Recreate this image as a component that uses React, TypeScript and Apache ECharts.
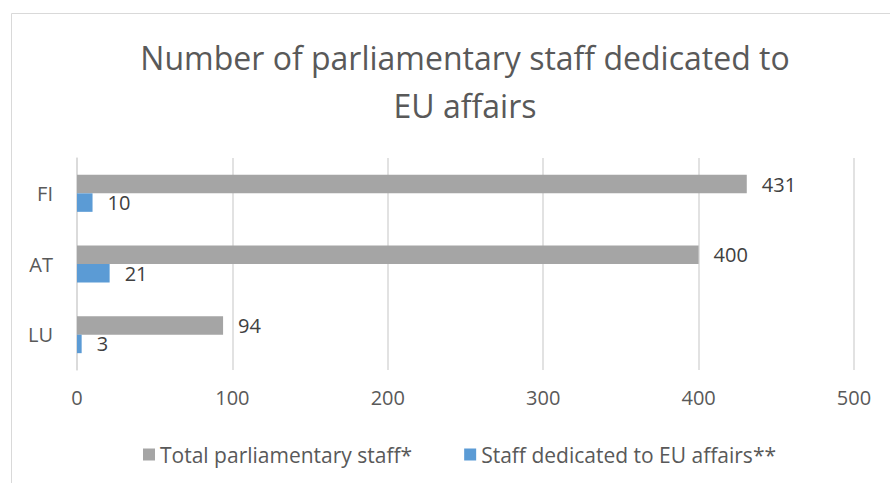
import React, { useEffect, useRef } from "react";
import * as echarts from "echarts";

const categories = ["LU", "AT", "FI"];
const totalStaff = [94, 400, 431];
const euStaff = [3, 21, 10];
const seriesNames = ["Total parliamentary staff*", "Staff dedicated to EU affairs**"];
const titleText = "Number of parliamentary staff dedicated to\nEU affairs";

const FONT = "'Open Sans', Lato, sans-serif";

export default function App() {
  const ref = useRef<HTMLDivElement>(null);
  useEffect(() => {
    if (!ref.current) return;
    const chart = echarts.init(ref.current, undefined, { renderer: "svg" });
    const labelStyle = {
      show: true,
      position: "right" as const,
      distance: 15,
      fontFamily: FONT,
      fontSize: 20,
      color: "#404040",
    };
    chart.setOption({
      animation: false,
      backgroundColor: "#ffffff",
      textStyle: { fontFamily: FONT },
      graphic: [
        {
          type: "rect",
          shape: { x: 11.5, y: 13.5, width: 920, height: 500 },
          style: { fill: "none", stroke: "#d9d9d9", lineWidth: 1 },
          silent: true,
        },
      ],
      title: {
        text: titleText,
        left: 460,
        top: 28,
        textAlign: "center",
        textStyle: {
          fontFamily: FONT,
          fontSize: 32,
          fontWeight: "normal",
          color: "#595959",
          lineHeight: 48,
        },
      },
      legend: {
        left: 138,
        top: 439,
        itemWidth: 12,
        itemHeight: 12,
        itemGap: 52,
        icon: "rect",
        textStyle: { fontFamily: FONT, fontSize: 21, color: "#595959" },
        data: seriesNames,
      },
      grid: { left: 77, right: 36, top: 158, bottom: 113, containLabel: false },
      xAxis: {
        type: "value",
        min: 0,
        max: 500,
        interval: 100,
        axisLine: { show: false },
        axisTick: { show: false },
        splitLine: { lineStyle: { color: "#d9d9d9", width: 1.5 } },
        axisLabel: { fontFamily: FONT, fontSize: 20, color: "#595959", margin: 17 },
      },
      yAxis: {
        type: "category",
        data: categories,
        axisLine: { show: true, lineStyle: { color: "#d9d9d9", width: 1.5 } },
        axisTick: { show: false },
        axisLabel: { fontFamily: FONT, fontSize: 20, color: "#595959", margin: 24 },
      },
      series: [
        {
          name: seriesNames[0],
          type: "bar",
          data: totalStaff,
          barWidth: 18.5,
          barGap: "0%",
          itemStyle: { color: "#a5a5a5" },
          label: labelStyle,
        },
        {
          name: seriesNames[1],
          type: "bar",
          data: euStaff,
          barWidth: 18.5,
          barGap: "0%",
          itemStyle: { color: "#5b9bd5" },
          label: labelStyle,
        },
      ],
    });
    return () => chart.dispose();
  }, []);
  return <div ref={ref} style={{ width: 890, height: 483, position: "absolute", left: 0, top: 0 }} />;
}
